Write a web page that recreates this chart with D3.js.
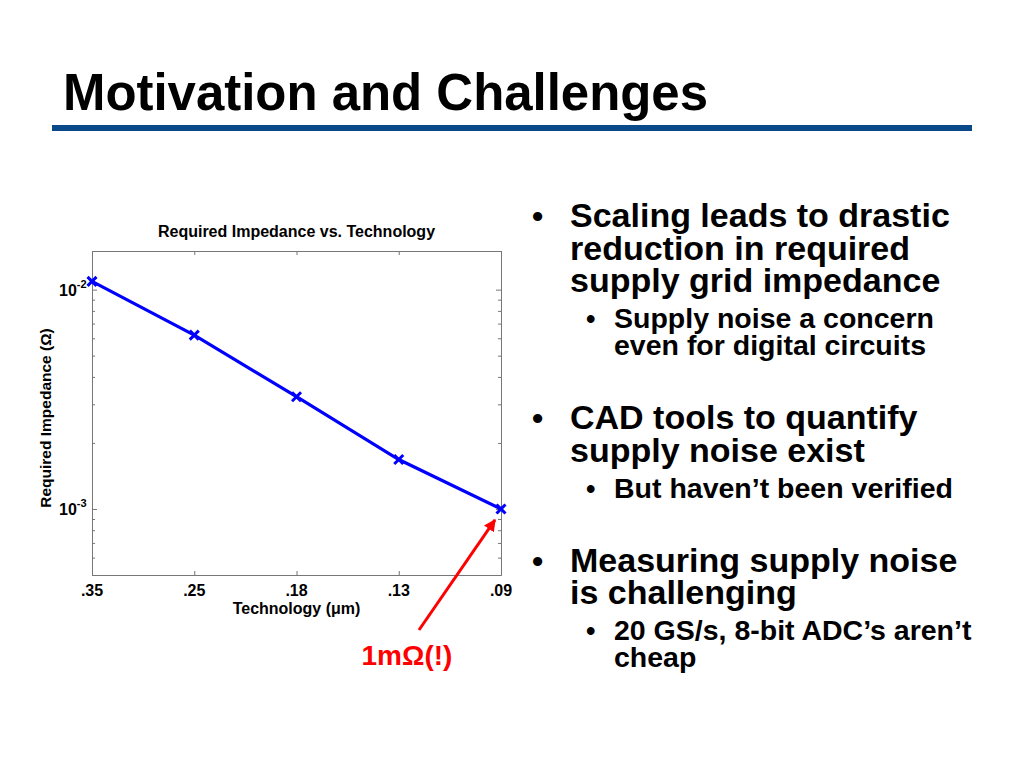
<!DOCTYPE html>
<html>
<head>
<meta charset="utf-8">
<script src="https://cdn.jsdelivr.net/npm/d3@7/dist/d3.min.js"></script>
<style>
  body { margin: 0; background: #fff; }
  text { font-family: "Liberation Sans", Arial, Helvetica, sans-serif; font-weight: bold; }
</style>
</head>
<body>
<svg id="slide" width="1024" height="768"></svg>
<script>
// chart data
var techNodes = [".35", ".25", ".18", ".13", ".09"];
var impedance = [0.0109, 0.0062, 0.00325, 0.00168, 0.001];
var majorTicks = [1e-3, 1e-2];
var majorExp = ["-3", "-2"];

var bullets = [
  {level: 1, lines: ["Scaling leads to drastic", "reduction in required", "supply grid impedance"]},
  {level: 2, lines: ["Supply noise a concern", "even for digital circuits"]},
  {level: 1, lines: ["CAD tools to quantify", "supply noise exist"]},
  {level: 2, lines: ["But haven\u2019t been verified"]},
  {level: 1, lines: ["Measuring supply noise", "is challenging"]},
  {level: 2, lines: ["20 GS/s, 8-bit ADC\u2019s aren\u2019t", "cheap"]}
];

var svg = d3.select("#slide");

// slide title + rule
svg.append("text")
   .attr("x", 63).attr("y", 110)
   .attr("textLength", 645).attr("lengthAdjust", "spacingAndGlyphs")
   .style("font-size", "52px")
   .text("Motivation and Challenges");
svg.append("rect")
   .attr("x", 52).attr("y", 125).attr("width", 920).attr("height", 6)
   .attr("fill", "#0a4a8a");

///////////////////////////////////////
// the plot
var pLeft = 92, pRight = 501, pTop = 251, pBottom = 575;

var x = d3.scalePoint().domain(techNodes).range([pLeft, pRight]).padding(0);
var y = d3.scaleLog().domain([5e-4, 1.5e-2]).range([pBottom, pTop]);

var minor = [];
[1e-4, 1e-3].forEach(function(dec) {
  for (var k = 2; k <= 9; k++) {
    var v = k * dec;
    if (v >= 5e-4 && v <= 1.5e-2) minor.push(v);
  }
});

var axisColor = "#777";

function styleAxis(g) {
  g.select(".domain").attr("stroke", axisColor);
  g.selectAll(".tick line").attr("stroke", axisColor);
}

svg.append("g").attr("transform", "translate(0," + pBottom + ")")
   .call(d3.axisBottom(x).tickSizeInner(-4).tickSizeOuter(0).tickFormat(""))
   .call(styleAxis);
svg.append("g").attr("transform", "translate(0," + pTop + ")")
   .call(d3.axisTop(x).tickSizeInner(-4).tickSizeOuter(0).tickFormat(""))
   .call(styleAxis);
svg.append("g").attr("transform", "translate(" + pLeft + ",0)")
   .call(d3.axisLeft(y).tickValues(majorTicks).tickSizeInner(-5).tickSizeOuter(0).tickFormat(""))
   .call(styleAxis);
svg.append("g").attr("transform", "translate(" + pLeft + ",0)")
   .call(d3.axisLeft(y).tickValues(minor).tickSizeInner(-3).tickSizeOuter(0).tickFormat(""))
   .call(styleAxis);
svg.append("g").attr("transform", "translate(" + pRight + ",0)")
   .call(d3.axisRight(y).tickValues(majorTicks).tickSizeInner(-5).tickSizeOuter(0).tickFormat(""))
   .call(styleAxis);
svg.append("g").attr("transform", "translate(" + pRight + ",0)")
   .call(d3.axisRight(y).tickValues(minor).tickSizeInner(-3).tickSizeOuter(0).tickFormat(""))
   .call(styleAxis);

// x tick labels
svg.append("g").selectAll("text")
   .data(techNodes)
   .enter().append("text")
   .attr("x", function(d) { return x(d); })
   .attr("y", pBottom + 21)
   .attr("text-anchor", "middle")
   .style("font-size", "16px")
   .text(function(d) { return d; });

// y tick labels 10^n
var yl = svg.append("g").selectAll("text")
   .data(majorTicks)
   .enter().append("text")
   .attr("x", pLeft - 33)
   .attr("y", function(d) { return y(d) + 6; })
   .style("font-size", "16px");
yl.append("tspan").text("10");
yl.append("tspan")
  .attr("dy", -8)
  .style("font-size", "11px")
  .text(function(d, i) { return majorExp[i]; });

// titles
svg.append("text")
   .attr("x", (pLeft + pRight) / 2).attr("y", 237)
   .attr("text-anchor", "middle")
   .style("font-size", "16px")
   .text("Required Impedance vs. Technology");
svg.append("text")
   .attr("x", (pLeft + pRight) / 2).attr("y", 614)
   .attr("text-anchor", "middle")
   .style("font-size", "16px")
   .text("Technology (\u03bcm)");
svg.append("text")
   .attr("transform", "translate(51,418) rotate(-90)")
   .attr("text-anchor", "middle")
   .style("font-size", "15.5px")
   .text("Required Impedance (\u03a9)");

// series
var line = d3.line()
  .x(function(d, i) { return x(techNodes[i]); })
  .y(function(d) { return y(d); });
svg.append("path")
   .datum(impedance)
   .attr("d", line)
   .attr("fill", "none")
   .attr("stroke", "#0000ff")
   .attr("stroke-width", 3.2);
svg.append("g").selectAll("path")
   .data(impedance)
   .enter().append("path")
   .attr("transform", function(d, i) { return "translate(" + x(techNodes[i]) + "," + y(d) + ")"; })
   .attr("d", "M-4.5,-4.5L4.5,4.5M-4.5,4.5L4.5,-4.5")
   .attr("stroke", "#0000ff")
   .attr("stroke-width", 3);

// annotation arrow
var defs = svg.append("defs");
defs.append("marker")
    .attr("id", "head")
    .attr("viewBox", "0 0 10 10")
    .attr("refX", 9).attr("refY", 5)
    .attr("markerWidth", 4).attr("markerHeight", 4)
    .attr("orient", "auto")
    .append("path").attr("d", "M0,0L10,5L0,10z").attr("fill", "#ff0000");

var last = impedance.length - 1;
var tipX = x(techNodes[last]) - 6, tipY = y(impedance[last]) + 11;
svg.append("line")
   .attr("x1", 419).attr("y1", 630)
   .attr("x2", tipX).attr("y2", tipY)
   .attr("stroke", "#ff0000")
   .attr("stroke-width", 3)
   .attr("marker-end", "url(#head)");
svg.append("text")
   .attr("x", 407).attr("y", 665)
   .attr("text-anchor", "middle")
   .attr("fill", "#ff0000")
   .style("font-size", "28px")
   .text("1m\u03a9(!)");

///////////////////////////////////////
// bullet list
var by = 227, first = true;
bullets.forEach(function(b) {
  var size = b.level == 1 ? 34 : 28.5;
  var step = b.level == 1 ? 32.5 : 27;
  var tx = b.level == 1 ? 570 : 614;
  var dotx = b.level == 1 ? 532 : 586;
  if (!first) by += (b.level == 1 ? 74 : 36);
  first = false;
  svg.append("text").attr("x", dotx).attr("y", by)
     .style("font-size", (b.level == 1 ? 32 : 27) + "px").text("\u2022");
  b.lines.forEach(function(t, i) {
    if (i > 0) by += step;
    svg.append("text").attr("x", tx).attr("y", by)
       .style("font-size", size + "px")
       .text(t);
  });
});
</script>
</body>
</html>
